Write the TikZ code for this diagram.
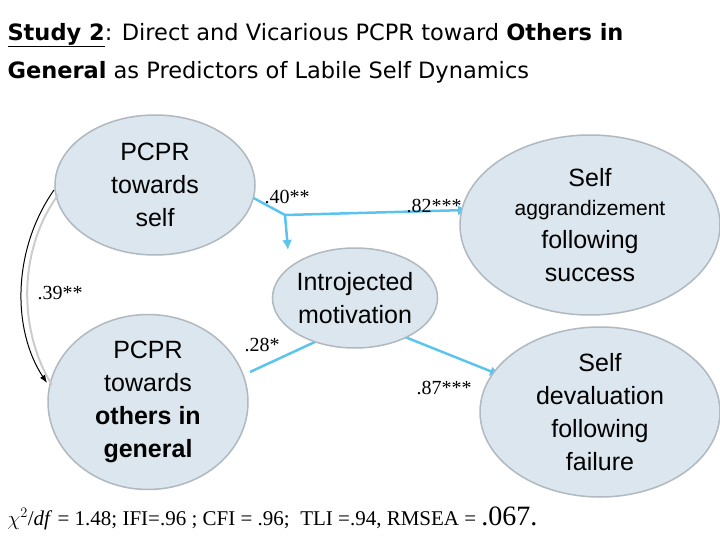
\documentclass[tikz,border=0pt]{standalone}
\usepackage{fontspec}
\setmainfont{DejaVu Sans}
\newfontfamily\tnr{Liberation Serif}
\newfontfamily\ar{Liberation Sans}
\usetikzlibrary{arrows.meta,shapes.geometric}
\definecolor{ef}{HTML}{DCE6EE}
\definecolor{eb}{HTML}{B0B8C0}
\definecolor{ab}{HTML}{5BC4EE}
\tikzset{ell/.style={ellipse,fill=ef,draw=eb,line width=1.5pt,align=center,inner sep=0pt,font=\ar\fontsize{25}{33}\selectfont},
 arr/.style={draw=ab,line width=2.5pt,-{Latex[length=10pt,width=10pt]}},
 lab/.style={font=\tnr\fontsize{20}{22}\selectfont}}
\begin{document}
\begin{tikzpicture}[x=1pt,y=-1pt]
\useasboundingbox (0,0) rectangle (720,540);
\coordinate (j) at (285,215);
\draw[draw=ab,line width=2.5pt] (248,195) -- (j);
\draw[arr] (j) -- (468,210);
\draw[arr] (j) -- (288,250);
\draw[draw=ab,line width=2.5pt] (250,372) -- (330,335);
\draw[arr] (400,335) -- (500,375);
\node[anchor=west,font=\fontsize{22.5}{26}\selectfont] (t1) at (4,35) {\underline{\textbf{Study 2}}: Direct and Vicarious PCPR toward \textbf{Others in}};
\node[anchor=west,font=\fontsize{22.5}{26}\selectfont] (t2) at (4,72) {\textbf{General} as Predictors of Labile Self Dynamics};
\node[ell,minimum width=200,minimum height=140] (a) at (155,185) {PCPR\\towards\\self};
\node[ell,minimum width=200,minimum height=175] (b) at (148,402) {PCPR\\towards\\\textbf{others in}\\\textbf{general}};
\node[ell,minimum width=160,minimum height=100] (m) at (355,298) {Introjected\\motivation};
\node[ell,minimum width=260,minimum height=180] (r1) at (590,225) {Self\\[-4pt]{\fontsize{21}{28}\selectfont aggrandizement}\\following\\success};
\node[ell,minimum width=240,minimum height=170] (r2) at (600,412) {Self\\devaluation\\following\\failure};
\draw[black!20,line width=2pt] (58,195) .. controls (18,250) and (18,330) .. (52,385);
\draw[line width=1pt,-{Latex[length=8pt]}] (54,190) .. controls (12,250) and (12,330) .. (47,383);
\node[lab] (l1) at (287,197) {.40**};
\node[lab] (l2) at (434,206) {.82***};
\node[lab] (l3) at (60,293) {.39**};
\node[lab] (l4) at (262,345) {.28*};
\node[lab] (l5) at (444,388) {.87***};
\node[anchor=west,font=\tnr\fontsize{21}{24}\selectfont] (f) at (4,518) {$\chi^2$/\textit{df} = 1.48; IFI=.96 ; CFI = .96; \ TLI =.94, RMSEA = {\fontsize{28}{30}\selectfont .067.}};
\end{tikzpicture}
\end{document}
